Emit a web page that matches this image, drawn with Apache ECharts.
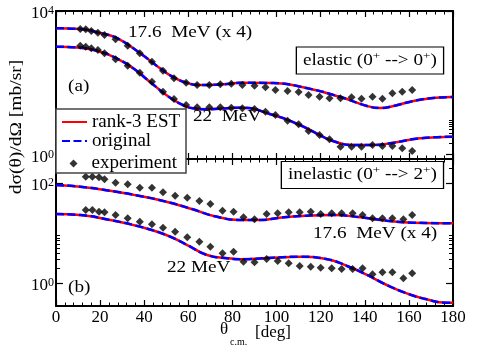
<!DOCTYPE html>
<html><head><meta charset="utf-8">
<script src="https://cdn.jsdelivr.net/npm/echarts@6.0.0/dist/echarts.min.js"></script>
<style>html,body{margin:0;padding:0;background:#fff;}#chart{width:477px;height:349px;}</style>
</head><body><div id="chart"></div>
<script>
// ---------- data (cross sections in mb/sr, angles in degrees) ----------
const xTicks = [0, 20, 40, 60, 80, 100, 120, 140, 160, 180];

// panel (a) elastic, 17.6 MeV (x 4)
const elHiCurveTheta = [0, 11, 20, 27.5, 38, 47, 53, 59.5, 65, 77.5, 83.5, 98.5, 113.5, 129, 141, 147, 153, 162, 171, 180];
const elHiEst = [3300, 3150, 2440, 1770, 675, 258, 145, 98, 86.5, 92, 100, 98, 71.4, 40, 22.5, 19.8, 22.5, 31, 37.6, 40];
const elHiOrig = [3300, 3150, 2440, 1770, 675, 258, 145, 98, 86.5, 92, 100, 98, 71.4, 40, 22.5, 19.8, 22.5, 31, 37.6, 40];
// panel (a) elastic, 22 MeV
const elLoCurveTheta = [0, 11, 20, 27.5, 35, 42.5, 50, 56, 62, 68.5, 77.5, 83.5, 98.5, 110.5, 119.5, 125.5, 134.5, 143.5, 153, 165, 180];
const elLoEst = [1012, 948, 734, 481, 253, 107, 45.6, 26.7, 19.4, 18.2, 19.4, 20.2, 12.6, 6.64, 3.50, 2.38, 1.84, 1.84, 2.13, 2.83, 3.13];
const elLoOrig = [1012, 948, 734, 481, 253, 107, 45.6, 26.7, 19.4, 18.2, 19.4, 20.2, 12.6, 6.64, 3.50, 2.38, 1.84, 1.84, 2.13, 2.83, 3.13];
// elastic experiment
const elExpTheta = [11, 13.5, 16, 19, 22, 27, 32.5, 38, 43.5, 48.5, 53.5, 59, 64, 69.5, 74.5, 79.5, 84.5, 90, 95, 99.5, 105, 110, 114.5, 119.5, 124, 129, 134, 138.5, 143.5, 148, 152.5, 157, 161.5];
const elHiExp = [3150, 3090, 2770, 2485, 2143, 1626, 1079, 662, 386, 217, 133, 100, 86.5, 86.5, 90.5, 94, 86.5, 82.7, 74.7, 62.8, 58.9, 55.2, 45.6, 40.8, 36.9, 36.9, 39.3, 35.9, 40.8, 35.9, 50.8, 56.3, 62.8];
const elLoExp = [1079, 1012, 912, 818, 662, 451, 299, 191, 107, 56.3, 35.2, 24.0, 20.7, 20.7, 20.7, 20.2, 19.4, 18.5, 15.6, 12.6, 8.75, 6.95, 4.52, 3.50, 2.65, 1.65, 1.65, 1.65, 1.84, 1.73, 1.73, 1.49, 1.25];

// panel (b) inelastic, 17.6 MeV (x 4)
const inHiCurveTheta = [0, 11, 24.5, 38, 50, 62, 71.5, 83.5, 92.5, 101.5, 113.5, 126, 138, 150, 162, 180];
const inHiEst = [91.2, 84.3, 70.1, 55.0, 42.3, 29.8, 21.9, 18.2, 18.2, 20.2, 22.2, 22.9, 20.6, 17.6, 16.1, 15.6];
const inHiOrig = [91.2, 84.3, 70.1, 55.0, 42.3, 29.8, 21.9, 18.2, 18.2, 20.2, 22.2, 22.9, 20.6, 17.6, 16.1, 15.6];
// panel (b) inelastic, 22 MeV
const inLoCurveTheta = [0, 11, 24.5, 38, 50, 59.5, 68.5, 77.5, 83.5, 98.5, 110.5, 122.5, 132, 141, 150, 159, 168, 177, 180];
const inLoEst = [24.0, 22.9, 18.2, 13.4, 9.12, 5.75, 3.63, 3.12, 3.0, 3.21, 3.36, 3.02, 2.19, 1.45, 0.912, 0.622, 0.472, 0.404, 0.404];
const inLoOrig = [24.0, 22.9, 18.2, 13.4, 9.12, 5.75, 3.63, 3.12, 3.0, 3.21, 3.36, 3.02, 2.19, 1.45, 0.912, 0.622, 0.472, 0.404, 0.404];
// inelastic experiment
const inExpTheta = [13.5, 16.5, 19.5, 22, 27, 32.5, 38, 43.5, 48.5, 54, 59.5, 65, 70, 75.5, 80.5, 85, 90, 95.5, 100.5, 105.5, 110.5, 115.5, 120, 125, 129.5, 134.5, 139, 143.5, 148, 152.5, 157.5, 161.5];
const inHiExp = [133.7, 133.7, 130, 118.6, 101.4, 94.2, 80.5, 80.5, 65.2, 55.7, 50.8, 43.6, 38.0, 27.9, 26.7, 20.6, 18.8, 24.0, 24.8, 25.9, 25.9, 26.7, 24.0, 24.8, 24.8, 24.8, 22.9, 19.7, 19.7, 19.7, 18.8, 22.9];
const inLoExp = [28.8, 28.8, 26.7, 25.9, 22.9, 19.7, 16.8, 14.9, 12.8, 10.6, 8.2, 6.7, 5.3, 3.93, 4.23, 2.67, 2.59, 3.02, 2.75, 2.48, 2.19, 2.12, 2.02, 1.97, 1.91, 1.91, 1.97, 1.49, 1.64, 1.64, 1.24, 1.56];

// y-axis decades (log10) and ranges
const topMajorExp = [0, 4];
const botMajorExp = [0, 2];
const topRange = [-0.125, 4];
const botRange = [-0.46, 2.48];
const minorMult = [2, 3, 4, 5, 6, 7, 8, 9];

// ---------- build ----------
const FONT = '"Liberation Serif", "Times New Roman", serif';
const lg = v => Math.log10(v);
const pairs = (xs, ys) => xs.map((x, i) => [x, lg(ys[i])]);
const topMinor = minorMult.map(lg);
const botMinor = minorMult.map(lg).concat([2, 3].map(m => 2 + lg(m)));

function xAx(gridIndex, position, showLabel) {
  return {
    type: 'value', gridIndex, position, min: 0, max: 180, interval: 20,
    axisLine: { show: true, onZero: false, lineStyle: { color: '#000', width: 2 } },
    axisTick: { show: true, inside: true, length: 6, lineStyle: { color: '#000', width: 1.2 } },
    minorTick: { show: true, splitNumber: 5, length: 3.5, lineStyle: { color: '#000', width: 1 } },
    splitLine: { show: false }, minorSplitLine: { show: false },
    axisLabel: { show: showLabel, margin: 3, color: '#000', fontSize: 17, fontFamily: FONT,
      showMinLabel: true, showMaxLabel: true, formatter: v => String(v) }
  };
}
function yMajor(gridIndex, position, range, majors) {
  return {
    type: 'value', gridIndex, position, min: range[0], max: range[1],
    axisLine: { show: true, onZero: false, lineStyle: { color: '#000', width: 2 } },
    axisTick: { show: true, inside: true, length: 7, customValues: majors, lineStyle: { color: '#000', width: 1.2 } },
    splitLine: { show: false },
    axisLabel: position === 'left' ? {
      show: true, customValues: majors, margin: 2, padding: [6, 0, 0, 0],
      formatter: v => '{b|10}{s|' + Math.round(v) + '}',
      rich: {
        b: { fontSize: 17, fontFamily: FONT, color: '#000', lineHeight: 18 },
        s: { fontSize: 12, fontFamily: FONT, color: '#000', lineHeight: 8, verticalAlign: 'top' }
      }
    } : { show: false }
  };
}
function yMinor(gridIndex, position, range, minors) {
  return {
    type: 'value', gridIndex, position, min: range[0], max: range[1],
    axisLine: { show: false, onZero: false },
    axisTick: { show: true, inside: true, length: 4, customValues: minors, lineStyle: { color: '#000', width: 1 } },
    splitLine: { show: false }, axisLabel: { show: false }
  };
}

function est(name, xs, ys, xi, yi) {
  return { type: 'line', name, xAxisIndex: xi, yAxisIndex: yi, data: pairs(xs, ys), symbol: 'none', showSymbol: false,
    smooth: 0.5, z: 2, color: '#ff0000',
    lineStyle: { color: '#ff0000', width: 2.5 } };
}
function orig(name, xs, ys, xi, yi) {
  return { type: 'line', name, xAxisIndex: xi, yAxisIndex: yi, data: pairs(xs, ys), symbol: 'none', showSymbol: false,
    smooth: 0.5, z: 3, color: '#0000ff',
    lineStyle: { color: '#0000ff', width: 2.5, type: [8, 3.5] } };
}
function exp(name, xs, ys, xi, yi) {
  return { type: 'scatter', name, xAxisIndex: xi, yAxisIndex: yi, data: pairs(xs, ys),
    symbol: 'diamond', symbolSize: 8, z: 4, itemStyle: { color: '#000' } };
}

const SX = 1.2;
function txt(x, y, text, extra) {
  return Object.assign({ type: 'text', x, y, scaleX: SX, z: 50, silent: true,
    style: { text, fontFamily: FONT, fontSize: 16, fill: '#000', align: 'left', verticalAlign: 'middle' } }, extra || {});
}
function boxTxt(x, y, text) {
  return { type: 'text', x, y, scaleX: SX, z: 50, silent: true,
    style: { text, align: 'left', verticalAlign: 'middle', fill: '#000',
      padding: [3, 5, 3, 5], borderColor: '#000', borderWidth: 1.1, backgroundColor: '#fff',
      rich: {
        t: { fontSize: 16, fontFamily: FONT, fill: '#000', lineHeight: 20 },
        s: { fontSize: 11, fontFamily: FONT, fill: '#000', lineHeight: 6, verticalAlign: 'top' }
      } } };
}

const legendText = { fontFamily: FONT, fontSize: 19, color: '#000', lineHeight: 15 };

const option = {
  animation: false,
  backgroundColor: '#fff',
  grid: [
    { left: 56, top: 11, width: 397, height: 148 },
    { left: 56, top: 159, width: 397, height: 147 }
  ],
  xAxis: [xAx(0, 'bottom', false), xAx(0, 'top', false), xAx(1, 'bottom', true), xAx(1, 'top', false)],
  yAxis: [
    yMajor(0, 'left', topRange, topMajorExp), yMajor(0, 'right', topRange, topMajorExp),
    yMinor(0, 'left', topRange, topMinor), yMinor(0, 'right', topRange, topMinor),
    yMajor(1, 'left', botRange, botMajorExp), yMajor(1, 'right', botRange, botMajorExp),
    yMinor(1, 'left', botRange, botMinor), yMinor(1, 'right', botRange, botMinor)
  ],
  legend: [
    { data: ['rank-3 EST', 'original'], orient: 'vertical', left: 61, top: 112.5, itemWidth: 25, itemHeight: 12,
      itemGap: 0, padding: 0, selectedMode: false, textStyle: legendText, z: 101,
      itemStyle: { opacity: 0 } },
    { data: ['experiment'], orient: 'vertical', left: 69.5, top: 154, itemWidth: 8, itemHeight: 8,
      itemGap: 0, padding: 0, selectedMode: false, z: 101,
      textStyle: Object.assign({ padding: [0, 0, 0, 9] }, legendText) }
  ],
  series: [
    est('rank-3 EST', elHiCurveTheta, elHiEst, 0, 0),
    est('rank-3 EST', elLoCurveTheta, elLoEst, 0, 0),
    est('rank-3 EST', inHiCurveTheta, inHiEst, 2, 4),
    est('rank-3 EST', inLoCurveTheta, inLoEst, 2, 4),
    orig('original', elHiCurveTheta, elHiOrig, 0, 0),
    orig('original', elLoCurveTheta, elLoOrig, 0, 0),
    orig('original', inHiCurveTheta, inHiOrig, 2, 4),
    orig('original', inLoCurveTheta, inLoOrig, 2, 4),
    exp('experiment', elExpTheta, elHiExp, 0, 0),
    exp('experiment', elExpTheta, elLoExp, 0, 0),
    exp('experiment', inExpTheta, inHiExp, 2, 4),
    exp('experiment', inExpTheta, inLoExp, 2, 4)
  ],
  graphic: [
    { type: 'rect', z: 100, silent: true, shape: { x: 56, y: 109, width: 130, height: 64 },
      style: { fill: '#fff', stroke: '#444', lineWidth: 1.5 } },
    txt(128, 33, '17.6  MeV (x 4)'),
    txt(68, 87, '(a)'),
    txt(193, 117, '22  MeV'),
    boxTxt(297, 60.5, '{t|elastic (0}{s|+}{t| --> 0}{s|+}{t|)}'),
    boxTxt(282, 175, '{t|inelastic (0}{s|+}{t| --> 2}{s|+}{t|)}'),
    txt(313, 234, '17.6  MeV (x 4)'),
    txt(167, 268, '22 MeV'),
    txt(68, 288, '(b)'),
    { type: 'text', x: 17, y: 127, rotation: Math.PI / 2, scaleX: 1.22, z: 50, silent: true,
      style: { text: 'dσ(θ)/dΩ [mb/sr]', fontFamily: FONT, fontSize: 16, fill: '#000', align: 'center', verticalAlign: 'middle' } },
    { type: 'text', x: 220, y: 330, z: 50, silent: true,
      style: { text: 'θ', fontFamily: FONT, fontSize: 17, fill: '#000', align: 'left', verticalAlign: 'middle' } },
    { type: 'text', x: 230, y: 342, z: 50, silent: true,
      style: { text: 'c.m.', fontFamily: FONT, fontSize: 10, fill: '#000', align: 'left', verticalAlign: 'middle' } },
    { type: 'text', x: 255, y: 333, z: 50, silent: true,
      style: { text: '[deg]', fontFamily: FONT, fontSize: 17, fill: '#000', align: 'left', verticalAlign: 'middle' } }
  ]
};

const chart = echarts.init(document.getElementById('chart'), null, { renderer: 'canvas' });
chart.setOption(option);
</script>
</body></html>
